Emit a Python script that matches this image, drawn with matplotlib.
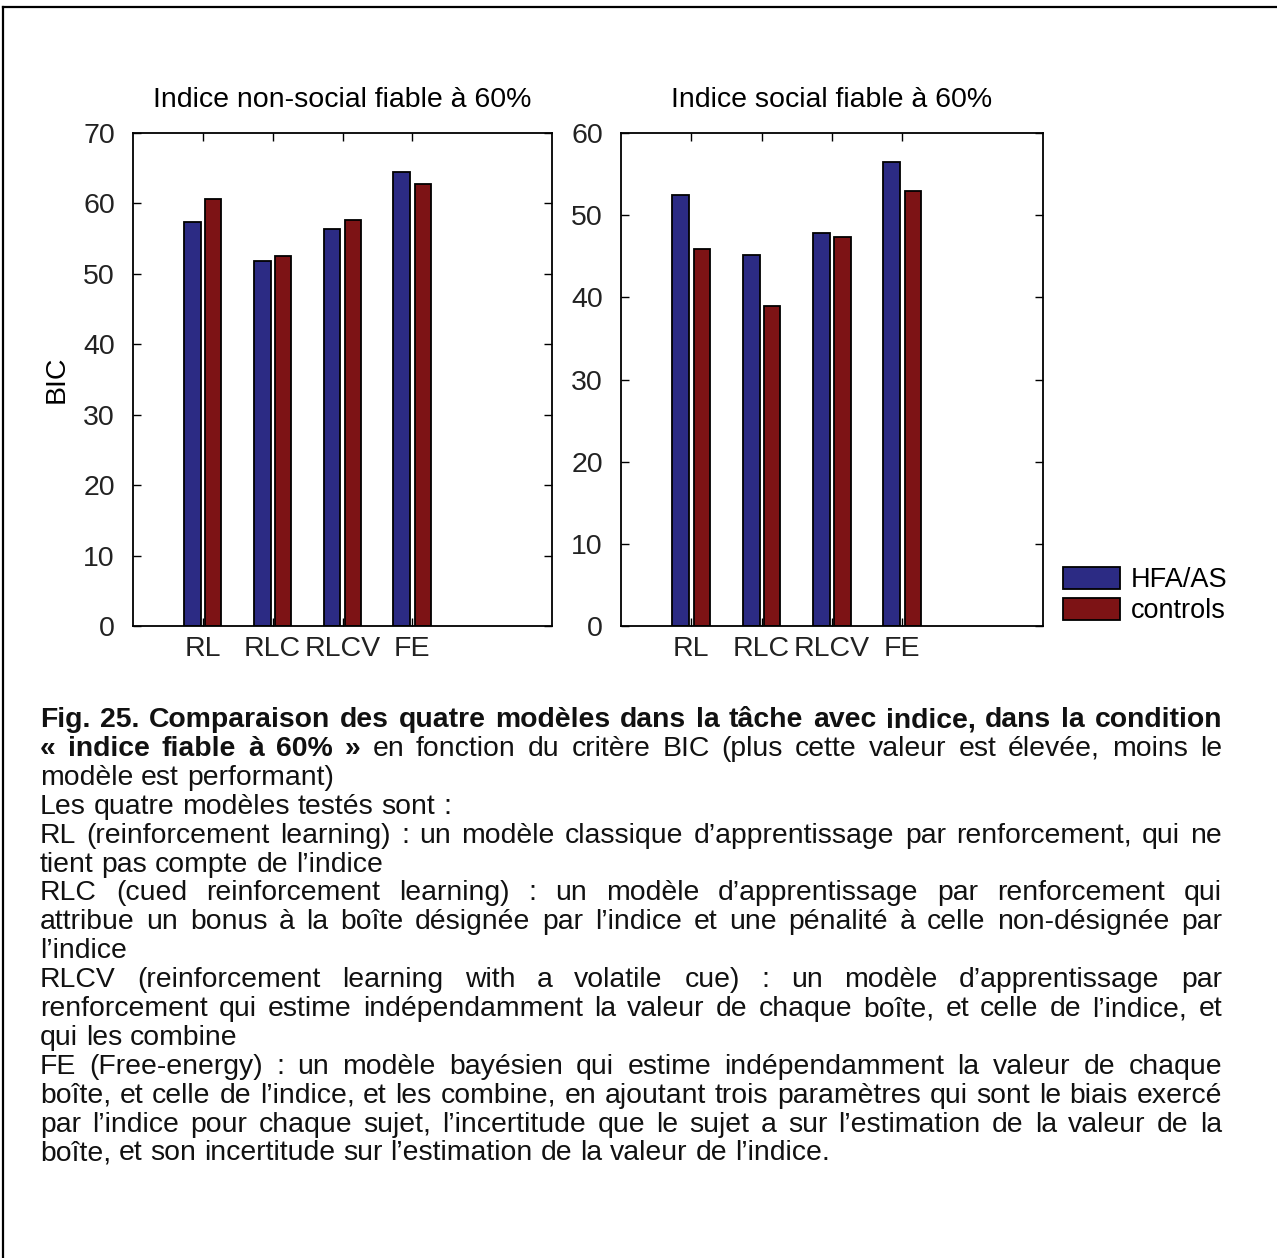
import numpy as np
import matplotlib
matplotlib.use('Agg')
import matplotlib.pyplot as plt
from matplotlib.lines import Line2D
from matplotlib.patches import Patch

# ================= données =================
models = ['RL', 'RLC', 'RLCV', 'FE']
nonsocial_hfa = [57.3, 51.8, 56.4, 64.5]
nonsocial_ctrl = [60.6, 52.6, 57.6, 62.7]
social_hfa = [52.4, 45.1, 47.8, 56.5]
social_ctrl = [45.9, 39.0, 47.3, 52.9]
group_names = ['HFA/AS', 'controls']

# légende : (partie en gras, partie normale, justifiée ?)
caption_lines = [
    ("Fig. 25. Comparaison des quatre modèles dans la tâche avec indice, dans la condition", "", True),
    ("« indice fiable à 60% »", " en fonction du critère BIC (plus cette valeur est élevée, moins le", True),
    ("", "modèle est performant)", False),
    ("", "Les quatre modèles testés sont :", False),
    ("", "RL (reinforcement learning) : un modèle classique d’apprentissage par renforcement, qui ne", True),
    ("", "tient pas compte de l’indice", False),
    ("", "RLC (cued reinforcement learning) : un modèle d’apprentissage par renforcement qui", True),
    ("", "attribue un bonus à la boîte désignée par l’indice et une pénalité à celle non-désignée par", True),
    ("", "l’indice", False),
    ("", "RLCV (reinforcement learning with a volatile cue) : un modèle d’apprentissage par", True),
    ("", "renforcement qui estime indépendamment la valeur de chaque boîte, et celle de l’indice, et", True),
    ("", "qui les combine", False),
    ("", "FE (Free-energy) : un modèle bayésien qui estime indépendamment la valeur de chaque", True),
    ("", "boîte, et celle de l’indice, et les combine, en ajoutant trois paramètres qui sont le biais exercé", True),
    ("", "par l’indice pour chaque sujet, l’incertitude que le sujet a sur l’estimation de la valeur de la", True),
    ("", "boîte, et son incertitude sur l’estimation de la valeur de l’indice.", False),
]

W, H = 1277, 1258
plt.rcParams['font.family'] = ['Liberation Sans', 'DejaVu Sans']
fig = plt.figure(figsize=(W / 100, H / 100), dpi=100)

blue = '#2c2b84'
red = '#7d1315'
tick_fs = 20.5
x = np.arange(1, len(models) + 1)


def px_axes(left, top, right, bottom):
    return fig.add_axes([left / W, 1 - bottom / H, (right - left) / W, (bottom - top) / H])


def draw_panel(ax, hfa, ctrl, title, ymax):
    ax.bar(x - 0.15, hfa, width=0.24, color=blue, edgecolor='black', linewidth=1.3)
    ax.bar(x + 0.15, ctrl, width=0.23, color=red, edgecolor='black', linewidth=1.3)
    ax.set_xlim(0, 6)
    ax.set_ylim(0, ymax)
    ax.set_xticks(x)
    ax.set_xticklabels(models)
    ax.set_yticks(np.arange(0, ymax + 1, 10))
    ax.tick_params(direction='in', length=6, width=1, top=True, right=True,
                   labelsize=tick_fs, labelcolor='#222222')
    ax.tick_params(axis='y', pad=13)
    ax.tick_params(axis='x', pad=7)
    for s in ax.spines.values():
        s.set_linewidth(1.3)
    ax.set_title(title, fontsize=tick_fs, pad=19)


ax1 = px_axes(133, 133, 552, 626)
draw_panel(ax1, nonsocial_hfa, nonsocial_ctrl, 'Indice non-social fiable à 60%', 70)
ax1.set_ylabel('BIC', fontsize=tick_fs, labelpad=10)

ax2 = px_axes(621, 133, 1043, 626)
draw_panel(ax2, social_hfa, social_ctrl, 'Indice social fiable à 60%', 60)

handles = [Patch(facecolor=blue, edgecolor='black', linewidth=1.3),
           Patch(facecolor=red, edgecolor='black', linewidth=1.3)]
fig.legend(handles, group_names, loc='upper left', bbox_to_anchor=(1063 / W, 1 - 567 / H),
           frameon=False, fontsize=19.5, handlelength=2.1, handleheight=0.85,
           labelspacing=0.18, handletextpad=0.4, borderpad=0, borderaxespad=0)

# cadre de la page
fig.add_artist(Line2D([3 / W, 1], [1 - 7 / H, 1 - 7 / H], color='black', lw=1.6, transform=fig.transFigure))
fig.add_artist(Line2D([3 / W, 3 / W], [0, 1 - 7 / H], color='black', lw=1.6, transform=fig.transFigure))

# ================= légende justifiée =================
cap_fs = 20.4
left_px, right_px = 40, 1222
base0, step = 727, 28.9
renderer = fig.canvas.get_renderer()


def measure(s, weight):
    t = fig.text(0, 0, s, fontsize=cap_fs, fontweight=weight)
    w = t.get_window_extent(renderer).width
    t.remove()
    return w


space_w = measure('n n', 'normal') - measure('nn', 'normal')

for i, (bold_part, norm_part, justify) in enumerate(caption_lines):
    tokens = [(w, 'bold') for w in bold_part.split()] + [(w, 'normal') for w in norm_part.split()]
    y = 1 - (base0 + i * step) / H
    texts = [fig.text(0, y, w, fontsize=cap_fs, fontweight=wt, va='baseline', color='#111111')
             for w, wt in tokens]
    widths = [t.get_window_extent(renderer).width for t in texts]
    if justify and len(texts) > 1:
        gap = max((right_px - left_px - sum(widths)) / (len(texts) - 1), space_w * 0.6)
    else:
        gap = space_w
    xp = left_px
    for t, w in zip(texts, widths):
        t.set_x(xp / W)
        xp += w + gap

fig.savefig('out.png', dpi=100)
